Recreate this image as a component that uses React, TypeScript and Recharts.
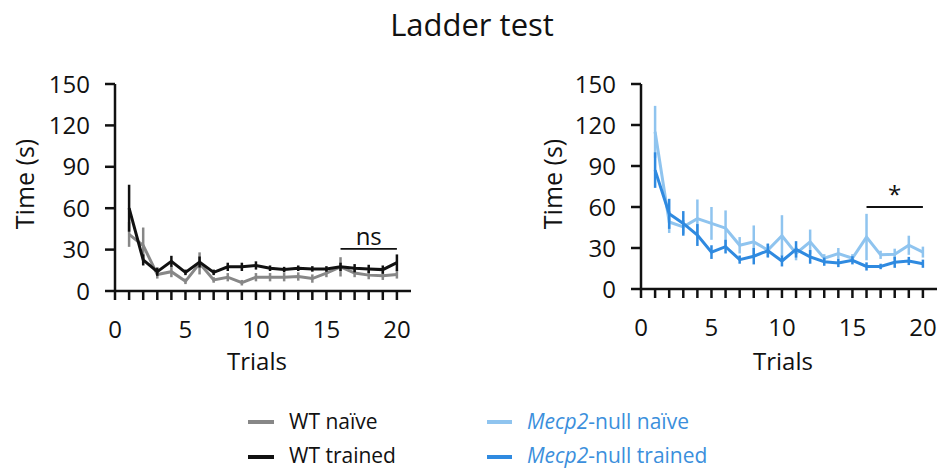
import React from "react";
import { LineChart, Line, XAxis, YAxis, ErrorBar, ReferenceLine } from "recharts";

const trials = [1, 2, 3, 4, 5, 6, 7, 8, 9, 10, 11, 12, 13, 14, 15, 16, 17, 18, 19, 20];
const xTicks = [0, 1, 2, 3, 4, 5, 6, 7, 8, 9, 10, 11, 12, 13, 14, 15, 16, 17, 18, 19, 20];
const yTicks = [0, 30, 60, 90, 120, 150];

const wtNaive = [41, 33, 12, 14, 7, 20, 8, 10, 6, 10, 10, 10, 10.5, 9, 13, 17.5, 13, 11.5, 11, 12];
const wtNaiveErr = [9, 13, 3, 4, 2, 8, 2, 3, 2, 3, 3, 3, 3, 3, 3, 7, 3, 3, 3, 3];
const wtTrained = [60, 22.5, 14, 21.5, 13.5, 21, 13.5, 17.5, 17.5, 18.5, 16.5, 15.5, 16.5, 16, 16, 17.5, 16.5, 16, 15.5, 20.5];
const wtTrainedErr = [17, 4, 3, 4, 2, 4, 2, 3, 3, 3, 2, 2, 2, 2, 2, 3, 3, 3, 3, 6];

const nullNaive = [115, 49, 45.5, 51.5, 48, 44.5, 32, 34.5, 28.5, 39, 26, 34.5, 22.5, 26, 22.5, 38, 25, 25.5, 32, 27];
const nullNaiveErr = [19, 8, 5, 14, 12, 13, 6, 12, 5, 15, 5, 9, 3, 4, 3, 17, 3, 4, 7, 4];
const nullTrained = [87, 55, 48, 39.5, 27, 31, 21.5, 24, 28, 20.5, 29, 23.5, 20, 19, 21, 16.5, 16.5, 19.5, 20.5, 18.5];
const nullTrainedErr = [13, 11, 9, 8, 5, 5, 3, 6, 5, 4, 6, 5, 3, 3, 3, 3, 2, 4, 3, 3];

const FONT = "'Open Sans', sans-serif";
const GRAY = "#878787";
const BLACK = "#111111";
const LIGHT_BLUE = "#8fc4ef";
const BLUE = "#2f8ae0";
const LEGEND_BLUE = "#3b8fdc";

const leftData = trials.map((t, i) => ({
  trial: t,
  naive: wtNaive[i],
  naiveErr: wtNaiveErr[i],
  trained: wtTrained[i],
  trainedErr: wtTrainedErr[i],
}));

const rightData = trials.map((t, i) => ({
  trial: t,
  naive: nullNaive[i],
  naiveErr: nullNaiveErr[i],
  trained: nullTrained[i],
  trainedErr: nullTrainedErr[i],
}));

const XTick = (props: any) => {
  const { x, y, payload } = props;
  if (payload.value % 5 !== 0) return <g />;
  return (
    <text x={x} y={y} dy="0.71em" textAnchor="middle" fontSize={24} fontFamily={FONT} fill="#111">
      {payload.value}
    </text>
  );
};

const YTick = (props: any) => {
  const { x, y, payload } = props;
  return (
    <text x={x} y={y} dy="0.36em" textAnchor="end" fontSize={24} fontFamily={FONT} fill="#111">
      {payload.value}
    </text>
  );
};

type PanelProps = {
  data: any[];
  left: number;
  yAxisWidth: number;
  bottom: number;
  naiveColor: string;
  trainedColor: string;
  sigY: number;
  sigText: string;
};

const Panel = ({ data, left, yAxisWidth, bottom, naiveColor, trainedColor, sigY, sigText }: PanelProps) => (
  <div style={{ position: "absolute", left, top: 0 }}>
    <LineChart
      width={420}
      height={380}
      data={data}
      margin={{ top: 84, right: 420 - yAxisWidth - 296, bottom: 380 - bottom - 60, left: 0 }}
    >
      <XAxis
        dataKey="trial"
        type="number"
        domain={[0, 21]}
        ticks={xTicks}
        interval={0}
        height={60}
        tickSize={9}
        tickMargin={21}
        tick={<XTick />}
        axisLine={{ stroke: "#111", strokeWidth: 2.5 }}
        tickLine={{ stroke: "#111", strokeWidth: 2.5 }}
      />
      <YAxis
        type="number"
        domain={[0, 150]}
        ticks={yTicks}
        interval={0}
        width={yAxisWidth}
        tickSize={10}
        tickMargin={15}
        tick={<YTick />}
        axisLine={{ stroke: "#111", strokeWidth: 2.5 }}
        tickLine={{ stroke: "#111", strokeWidth: 2.5 }}
      />
      <ReferenceLine
        segment={[{ x: 16, y: sigY }, { x: 20, y: sigY }]}
        stroke="#111"
        strokeWidth={1.8}
        label={{ value: sigText, position: "top", fontSize: 24, fontFamily: FONT, fill: "#111", offset: 4 }}
      />
      <Line
        dataKey="naive"
        stroke={naiveColor}
        strokeWidth={3}
        dot={false}
        isAnimationActive={false}
      >
        <ErrorBar dataKey="naiveErr" width={0} stroke={naiveColor} strokeWidth={2.5} direction="y" />
      </Line>
      <Line
        dataKey="trained"
        stroke={trainedColor}
        strokeWidth={3}
        dot={false}
        isAnimationActive={false}
      >
        <ErrorBar dataKey="trainedErr" width={0} stroke={trainedColor} strokeWidth={2.5} direction="y" />
      </Line>
    </LineChart>
  </div>
);

export default function App() {
  return (
    <div style={{ position: "absolute", left: 0, top: 0, width: 940, height: 468, background: "#fff", overflow: "hidden" }}>
      <Panel
        data={leftData}
        left={0}
        yAxisWidth={115}
        bottom={291}
        naiveColor={GRAY}
        trainedColor={BLACK}
        sigY={30.5}
        sigText="ns"
      />
      <Panel
        data={rightData}
        left={520}
        yAxisWidth={121}
        bottom={289}
        naiveColor={LIGHT_BLUE}
        trainedColor={BLUE}
        sigY={60}
        sigText="*"
      />
      <svg width={940} height={468} style={{ position: "absolute", left: 0, top: 0, pointerEvents: "none" }}>
        <text x={472} y={36} textAnchor="middle" fontSize={31} fontFamily={FONT} fill="#111">
          Ladder test
        </text>
        <text x={257} y={370} textAnchor="middle" fontSize={24} fontFamily={FONT} fill="#111">
          Trials
        </text>
        <text x={783} y={370} textAnchor="middle" fontSize={24} fontFamily={FONT} fill="#111">
          Trials
        </text>
        <text transform="translate(34,184) rotate(-90)" textAnchor="middle" fontSize={25} fontFamily={FONT} fill="#111">
          Time (s)
        </text>
        <text transform="translate(562,184) rotate(-90)" textAnchor="middle" fontSize={25} fontFamily={FONT} fill="#111">
          Time (s)
        </text>
        <line x1={248} x2={274} y1={422} y2={422} stroke={GRAY} strokeWidth={4} />
        <text x={289} y={429} fontSize={21} fontFamily={FONT} fill="#111">WT naïve</text>
        <line x1={248} x2={274} y1={457} y2={457} stroke={BLACK} strokeWidth={4} />
        <text x={289} y={463} fontSize={21} fontFamily={FONT} fill="#111">WT trained</text>
        <line x1={487} x2={512} y1={422} y2={422} stroke={LIGHT_BLUE} strokeWidth={4} />
        <text x={527} y={429} fontSize={21} fontFamily={FONT} fill={LEGEND_BLUE}>
          <tspan fontStyle="italic">Mecp2</tspan>-null naïve
        </text>
        <line x1={487} x2={512} y1={457} y2={457} stroke={BLUE} strokeWidth={4} />
        <text x={527} y={463} fontSize={21} fontFamily={FONT} fill={LEGEND_BLUE}>
          <tspan fontStyle="italic">Mecp2</tspan>-null trained
        </text>
      </svg>
    </div>
  );
}
